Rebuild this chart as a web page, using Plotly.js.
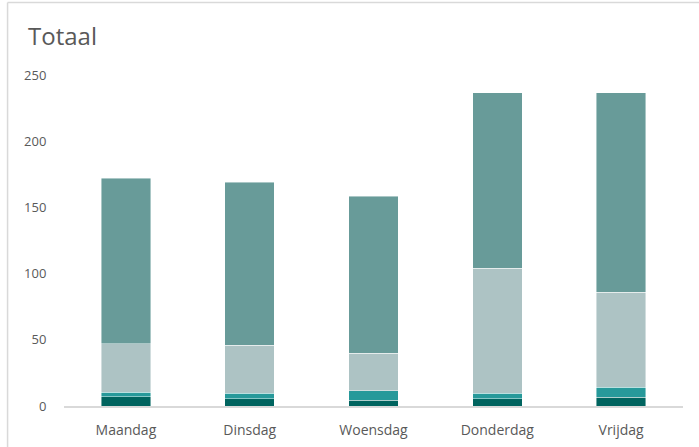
<!DOCTYPE html>
<html>
<head>
<meta charset="utf-8">
<script src="https://cdn.plot.ly/plotly-3.0.1.min.js"></script>
<style>
  html, body { margin: 0; padding: 0; background: #ffffff; }
  #chart { width: 699px; height: 447px; }
</style>
</head>
<body>
<div id="chart"></div>
<script>
// Data
const categories = ["Maandag", "Dinsdag", "Woensdag", "Donderdag", "Vrijdag"];
const series1 = [7, 5.5, 4.5, 5.5, 6.5];      // dark teal (bottom)
const series2 = [3.5, 4, 7, 4, 7.5];          // teal
const series3 = [36.5, 36.5, 28.5, 94.5, 72]; // light grey-teal
const series4 = [125, 123, 118.5, 132.5, 150.5]; // muted teal (top)
const yTicks = [0, 50, 100, 150, 200, 250];

const colors = ["#00645f", "#27999a", "#adc3c4", "#689b99"];
const seriesList = [series1, series2, series3, series4];

const traces = seriesList.map((vals, i) => ({
  type: "bar",
  x: categories,
  y: vals,
  marker: { color: colors[i], line: { color: "rgba(255,255,255,0.55)", width: 0.8 } },
  hoverinfo: "skip",
  showlegend: false
}));

const plotL = 64.4, plotR = 683, plotT = 75, plotB = 406;
const W = 699, H = 447;
const px = v => (v - plotL) / (plotR - plotL);
const py = v => (plotB - v) / (plotB - plotT);

const layout = {
  width: W,
  height: H,
  barmode: "stack",
  bargap: 0.6,
  paper_bgcolor: "#ffffff",
  plot_bgcolor: "#ffffff",
  margin: { l: plotL, r: W - plotR, t: plotT, b: H - plotB, pad: 0 },
  font: { family: "Open Sans, sans-serif", color: "#595959", size: 13 },
  title: {
    text: "Totaal",
    font: { family: "Open Sans, sans-serif", size: 24, color: "#595959" },
    x: 28 / W, xanchor: "left", xref: "container",
    y: 1 - 37 / H, yanchor: "middle", yref: "container"
  },
  xaxis: {
    type: "category",
    range: [-0.5, 4.5],
    showline: true,
    linecolor: "#d9d9d9",
    linewidth: 1.5,
    showgrid: false,
    zeroline: false,
    ticks: "outside",
    ticklen: 11,
    tickcolor: "rgba(0,0,0,0)",
    tickfont: { size: 14, color: "#595959" }
  },
  yaxis: {
    range: [0, 250],
    tickvals: yTicks,
    ticktext: yTicks.map(String),
    showgrid: false,
    zeroline: false,
    showline: false,
    ticks: "outside",
    ticklen: 14,
    tickcolor: "rgba(0,0,0,0)",
    tickfont: { size: 13, color: "#595959" }
  },
  shapes: [
    { type: "line", xref: "paper", yref: "paper", x0: px(8), x1: px(699), y0: py(2.5), y1: py(2.5),
      line: { color: "#d9d9d9", width: 1.5 } },
    { type: "line", xref: "paper", yref: "paper", x0: px(8), x1: px(8), y0: py(2.5), y1: py(447),
      line: { color: "#d9d9d9", width: 1.5 } }
  ]
};

Plotly.newPlot("chart", traces, layout, { displayModeBar: false, staticPlot: true });
</script>
</body>
</html>
